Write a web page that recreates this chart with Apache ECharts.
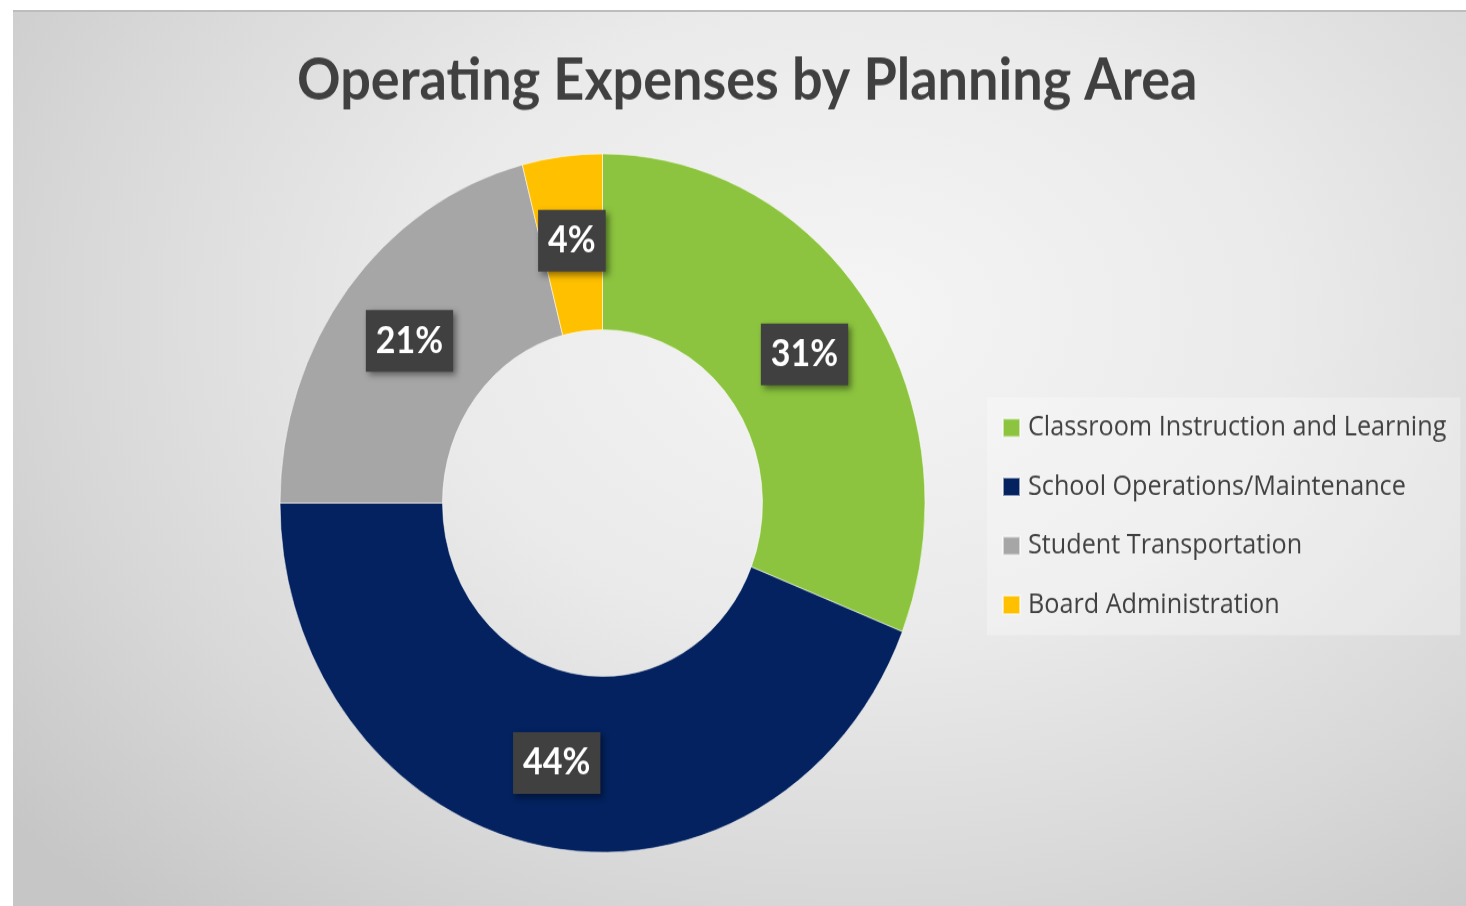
<!DOCTYPE html>
<html>
<head>
<meta charset="utf-8">
<script src="https://cdn.jsdelivr.net/npm/echarts@6/dist/echarts.min.js"></script>
<style>
  html, body { margin: 0; padding: 0; width: 1466px; height: 906px; background: #ffffff; overflow: hidden; }
  #panel {
    position: absolute; left: 13px; top: 10px; width: 1453px; height: 896px;
    border-top: 2px solid #bdbdbd; box-sizing: border-box;
    background: radial-gradient(ellipse 75% 90% at 58% 34%, #f5f5f5 0%, #eaeaea 40%, #d8d8d8 72%, #c6c6c6 100%);
  }
  /* the chart is laid out on a 1466 x 836.6 canvas, then stretched vertically */
  #chart {
    position: absolute; left: 0; top: 0; width: 1466px; height: 836.6px;
    transform: scaleY(1.083); transform-origin: 0 0;
  }
</style>
</head>
<body>
<div id="panel"></div>
<div id="chart"></div>
<script>
// Planning areas and their share of operating expenses (percent)
const categories = [
  'Classroom Instruction and Learning',
  'School Operations/Maintenance',
  'Student Transportation',
  'Board Administration'
];
const shares = [31, 44, 21, 4];
const palette = ['#8cc43f', '#03225f', '#a6a6a6', '#ffc000'];

const chart = echarts.init(document.getElementById('chart'), null, { renderer: 'canvas' });

chart.setOption({
  backgroundColor: 'transparent',
  animation: false,
  color: palette,
  title: {
    text: 'Operating Expenses by Planning Area',
    left: 297,
    top: 48,
    padding: 0,
    textStyle: {
      fontFamily: 'Lato',
      fontWeight: 'bold',
      fontSize: 54,
      color: '#404040'
    }
  },
  legend: {
    orient: 'vertical',
    left: 987,
    top: 367,
    icon: 'rect',
    itemWidth: 17,
    itemHeight: 17,
    itemGap: 24.5,
    padding: [13, 14, 13, 15],
    backgroundColor: 'rgba(255,255,255,0.28)',
    textStyle: {
      fontFamily: 'Open Sans',
      fontSize: 25.2,
      lineHeight: 30,
      color: '#404040',
      padding: [0, 0, 0, 3]
    },
    data: categories
  },
  series: [{
    type: 'pie',
    center: [602.5, 464.5],
    radius: [160, 322.5],
    startAngle: 90,
    clockwise: true,
    avoidLabelOverlap: false,
    itemStyle: {
      borderColor: 'rgba(255,255,255,0.55)',
      borderWidth: 1
    },
    label: {
      show: true,
      position: 'inside',
      formatter: '{c}%',
      fontFamily: 'Lato',
      fontWeight: 'bold',
      fontSize: 34,
      lineHeight: 35,
      color: '#ffffff',
      backgroundColor: '#404040',
      padding: [11, 10, 11, 10],
      shadowColor: 'rgba(0,0,0,0.45)',
      shadowBlur: 6,
      shadowOffsetX: 3,
      shadowOffsetY: 3
    },
    labelLine: { show: false },
    emphasis: { disabled: true },
    data: categories.map((name, i) => ({ name: name, value: shares[i] }))
  }]
});
</script>
</body>
</html>
